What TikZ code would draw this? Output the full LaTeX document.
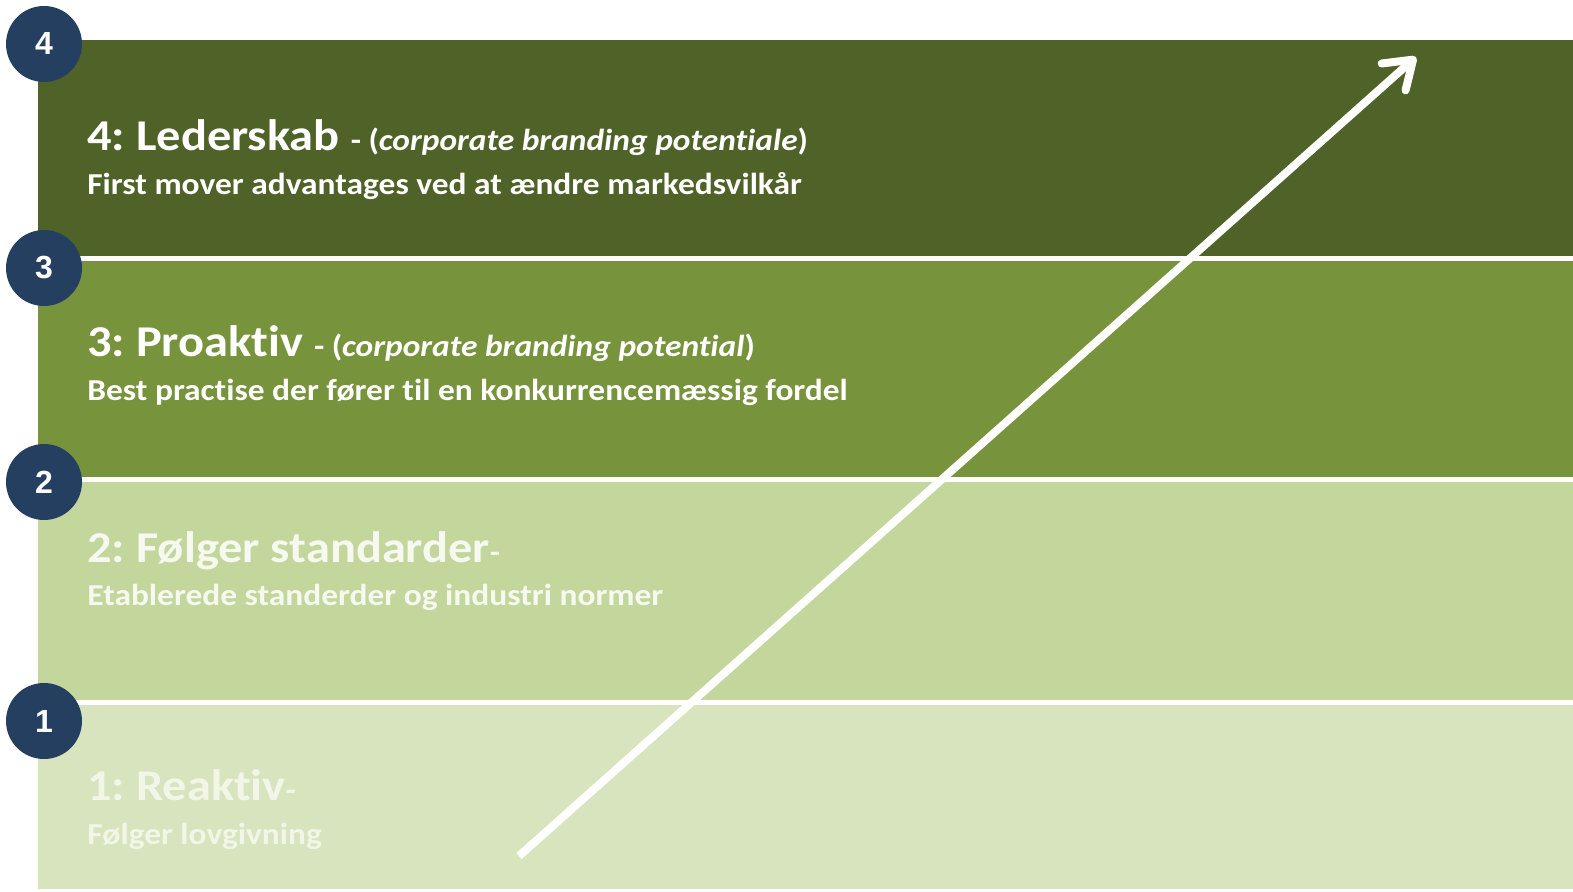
\documentclass[tikz,border=0pt]{standalone}
\usepackage{fontspec}
\setmainfont{Carlito}[FakeStretch=1.1, Ligatures=NoCommon]
\newfontfamily\digitfont{Liberation Sans}
\usetikzlibrary{arrows.meta}
\definecolor{lvlfour}{RGB}{79,98,40}
\definecolor{lvlthree}{RGB}{119,147,60}
\definecolor{lvltwo}{RGB}{195,214,155}
\definecolor{lvlone}{RGB}{215,228,189}
\definecolor{navy}{RGB}{36,63,96}
\definecolor{paleone}{RGB}{241,246,232}
\definecolor{paletwo}{RGB}{246,249,240}
\newcommand{\bigtitle}{\fontsize{22}{26}\selectfont\bfseries}
\newcommand{\smalltitle}{\fontsize{15.2}{18}\selectfont\bfseries}
\begin{document}
\frenchspacing
\begin{tikzpicture}[x=0.5pt,y=-0.5pt]
	\useasboundingbox (0,0) rectangle (1573,892);
	\fill[lvlfour] (38,40) rectangle (1573,259);
	\fill[lvlthree] (38,259) rectangle (1573,480);
	\fill[lvltwo] (38,480) rectangle (1573,702);
	\fill[lvlone] (38,702) rectangle (1573,889);
	\begin{scope}[every path/.style={draw=white, line width=2.5pt}]
		\path (38,259) -- (1573,259);
		\path (38,480) -- (1573,480);
		\path (38,702) -- (1573,702);
	\end{scope}
	\begin{scope}[every node/.style={anchor=base west, inner sep=0pt, text=white}]
		\node (T4) at (87,151) {\bigtitle 4: Lederskab \smalltitle - (\textit{corporate branding potentiale})};
		\node (S4) at (87,195) {\smalltitle First mover advantages ved at ændre markedsvilkår};
		\node (T3) at (87,357) {\bigtitle 3: Proaktiv \smalltitle - (\textit{corporate branding potential})};
		\node (S3) at (87,401) {\smalltitle Best practise der fører til en konkurrencemæssig fordel};
		\node[text=paletwo] (T2) at (87,562) {\bigtitle 2: Følger standarder\smalltitle -};
		\node[text=paletwo] (S2) at (87,605) {\smalltitle Etablerede standerder og industri normer};
		\node[text=paleone] (T1) at (87,800) {\bigtitle 1: Reaktiv\smalltitle -};
		\node[text=paleone] (S1) at (87,844) {\smalltitle Følger lovgivning};
	\end{scope}
	\begin{scope}[every node/.style={circle, fill=navy, minimum size=38pt, inner sep=0pt, text=white, font=\digitfont\fontsize{16}{18}\selectfont\bfseries}]
		\node (C4) at (44,44) {4};
		\node (C3) at (44,268) {3};
		\node (C2) at (44,482) {2};
		\node (C1) at (44,721) {1};
	\end{scope}
	\coordinate (start) at (519,856);
	\coordinate (tip) at (1416,57);
	\draw[white, line width=4pt, -{Straight Barb[length=13pt, width=18pt, line cap=round, line join=round]}] (start) -- (tip);
\end{tikzpicture}
\end{document}
